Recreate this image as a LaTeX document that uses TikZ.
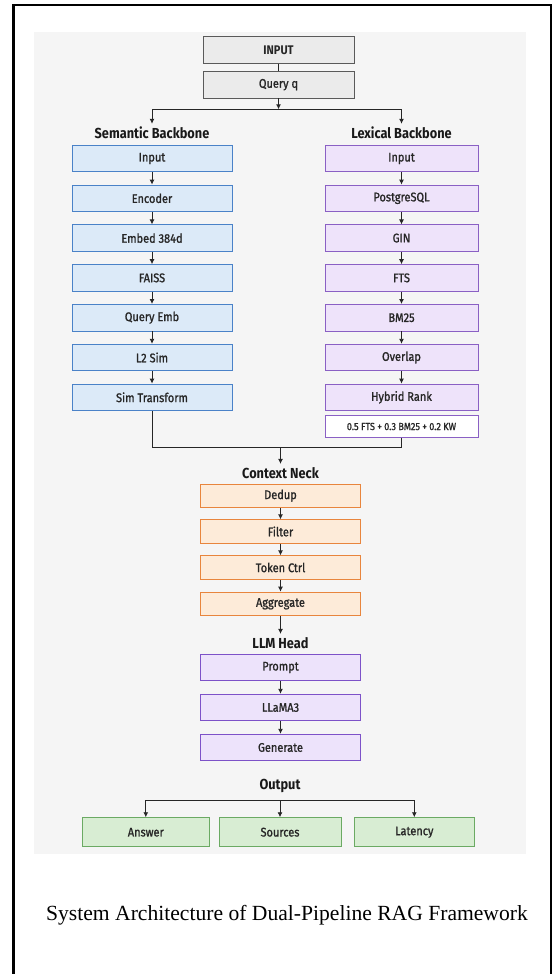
\documentclass[tikz,border=0pt]{standalone}
\usepackage{fontspec}
\setmainfont{Liberation Serif}
\newfontfamily\archfont[FakeStretch=0.88]{Fira Sans}
\newfontfamily\archmed[FakeStretch=0.88, FakeBold=1.2]{Fira Sans}
\usetikzlibrary{arrows.meta}

\definecolor{bgGray}{HTML}{F5F5F5}
\definecolor{inFill}{HTML}{EBEBEB}
\definecolor{inDraw}{HTML}{5A5A5A}
\definecolor{semFill}{HTML}{DCEAF8}
\definecolor{semDraw}{HTML}{4A82C8}
\definecolor{lexFill}{HTML}{EEE3FA}
\definecolor{lexDraw}{HTML}{8A60C4}
\definecolor{neckFill}{HTML}{FDEBD9}
\definecolor{neckDraw}{HTML}{E8853D}
\definecolor{headFill}{HTML}{EDE3FB}
\definecolor{headDraw}{HTML}{7D52C8}
\definecolor{outFill}{HTML}{D8EDD3}
\definecolor{outDraw}{HTML}{6BAA63}

\begin{document}
\begin{tikzpicture}[x=1pt, y=-1pt,
    box/.style={draw, line width=0.9pt, minimum height=26.5pt, inner sep=0pt,
      font=\archmed\fontsize{12.5}{14}\selectfont, text=black!85},
    inbox/.style={box, draw=inDraw, fill=inFill, minimum width=151pt},
    sembox/.style={box, draw=semDraw, fill=semFill, minimum width=160pt},
    lexbox/.style={box, draw=lexDraw, fill=lexFill, minimum width=153pt},
    neckbox/.style={box, draw=neckDraw, fill=neckFill, minimum width=160pt, minimum height=23.4pt},
    headbox/.style={box, draw=headDraw, fill=headFill, minimum width=160pt},
    outbox/.style={box, draw=outDraw, fill=outFill, minimum height=29pt},
    stage/.style={font=\archfont\bfseries\fontsize{14.5}{16}\selectfont, text=black!90, inner sep=3pt},
    flow/.style={-{Latex[length=5pt,width=5pt]}, line width=0.9pt, draw=black!85},
    link/.style={line width=0.9pt, draw=black!85}
  ]
      \useasboundingbox (0,0) rectangle (552,974);
      \fill [white] (0,0) rectangle (552,974);
      \draw [line width=2.3pt] (13.5,974) -- (13.5,5) -- (551,5) -- (551,974);
      \fill [bgGray] (34,31.7) rectangle (526,854);

      % input
      \node[inbox, font=\archfont\bfseries\fontsize{12.5}{14}\selectfont] (input) at (278.5,50) {INPUT};
      \node[inbox] (query) at (278.5,84.7) {Query q};
      \coordinate (split) at (278.5,109.3);
      \draw [link] (input) -- (query);
      \draw [flow] (query) -- (split);

      % semantic backbone
      \node[stage] (semhead) at (152,133) {Semantic Backbone};
      \node[sembox] (semIn) at (152,158.5) {Input};
      \node[sembox] (encoder) at (152,198.3) {Encoder};
      \node[sembox] (embed) at (152,238.1) {Embed 384d};
      \node[sembox] (faiss) at (152,277.9) {FAISS};
      \node[sembox] (qemb) at (152,317.7) {Query Emb};
      \node[sembox] (l2sim) at (152,357.5) {L2 Sim};
      \node[sembox] (simtf) at (152,397.3) {Sim Transform};

      % lexical backbone
      \node[stage] (lexhead) at (401.5,133) {Lexical Backbone};
      \node[lexbox] (lexIn) at (401.5,158.5) {Input};
      \node[lexbox] (postgres) at (401.5,198.3) {PostgreSQL};
      \node[lexbox] (gin) at (401.5,238.1) {GIN};
      \node[lexbox] (fts) at (401.5,277.9) {FTS};
      \node[lexbox] (bm25) at (401.5,317.7) {BM25};
      \node[lexbox] (overlap) at (401.5,357.5) {Overlap};
      \node[lexbox] (hybrid) at (401.5,397.3) {Hybrid Rank};
      \node[lexbox, fill=white, minimum height=21.6pt, font=\archmed\fontsize{10.3}{12}\selectfont] (formula) at (401.5,426.5) {0.5 FTS + 0.3 BM25 + 0.2 KW};

      \draw [flow] (split) -| (semhead);
      \draw [flow] (split) -| (lexhead);

      \draw [flow] (semIn) -- (encoder);
      \draw [flow] (encoder) -- (embed);
      \draw [flow] (embed) -- (faiss);
      \draw [flow] (faiss) -- (qemb);
      \draw [flow] (qemb) -- (l2sim);
      \draw [flow] (l2sim) -- (simtf);

      \draw [flow] (lexIn) -- (postgres);
      \draw [flow] (postgres) -- (gin);
      \draw [flow] (gin) -- (fts);
      \draw [flow] (fts) -- (bm25);
      \draw [flow] (bm25) -- (overlap);
      \draw [flow] (overlap) -- (hybrid);

      % context neck
      \coordinate (merge) at (280.5,447.3);
      \node[stage] (neckhead) at (280.5,472.7) {Context Neck};
      \node[neckbox] (dedup) at (280.5,495.7) {Dedup};
      \node[neckbox] (filter) at (280.5,531.5) {Filter};
      \node[neckbox] (tokenctrl) at (280.5,567.5) {Token Ctrl};
      \node[neckbox] (aggregate) at (280.5,603.8) {Aggregate};

      \draw [link] (simtf) |- (merge) -| (formula);
      \draw [flow] (merge) -- (neckhead);
      \draw [flow] (dedup) -- (filter);
      \draw [flow] (filter) -- (tokenctrl);
      \draw [flow] (tokenctrl) -- (aggregate);

      % llm head
      \node[stage] (llmhead) at (280.5,642.7) {LLM Head};
      \node[headbox] (prompt) at (280.5,667.5) {Prompt};
      \node[headbox] (llama) at (280.5,707.5) {LLaMA3};
      \node[headbox] (generate) at (280.5,747.5) {Generate};

      \draw [flow] (aggregate) -- (llmhead);
      \draw [flow] (prompt) -- (llama);
      \draw [flow] (llama) -- (generate);

      % output
      \node[stage] (outhead) at (280,786) {Output};
      \coordinate (fan) at (280,800.7);
      \node[outbox, minimum width=127.5pt] (answer) at (145.8,832.2) {Answer};
      \node[outbox, minimum width=122pt] (sources) at (280,832.2) {Sources};
      \node[outbox, minimum width=120.6pt] (latency) at (414.3,832.2) {Latency};

      \draw [flow] (fan) -| (answer);
      \draw [flow] (fan) -| (latency);
      \draw [flow] (fan) -- (sources);

      \node[font=\fontsize{21.6}{24}\selectfont] (caption) at (287,915.5) {System Architecture of Dual-Pipeline RAG Framework};

\end{tikzpicture}
\end{document}
